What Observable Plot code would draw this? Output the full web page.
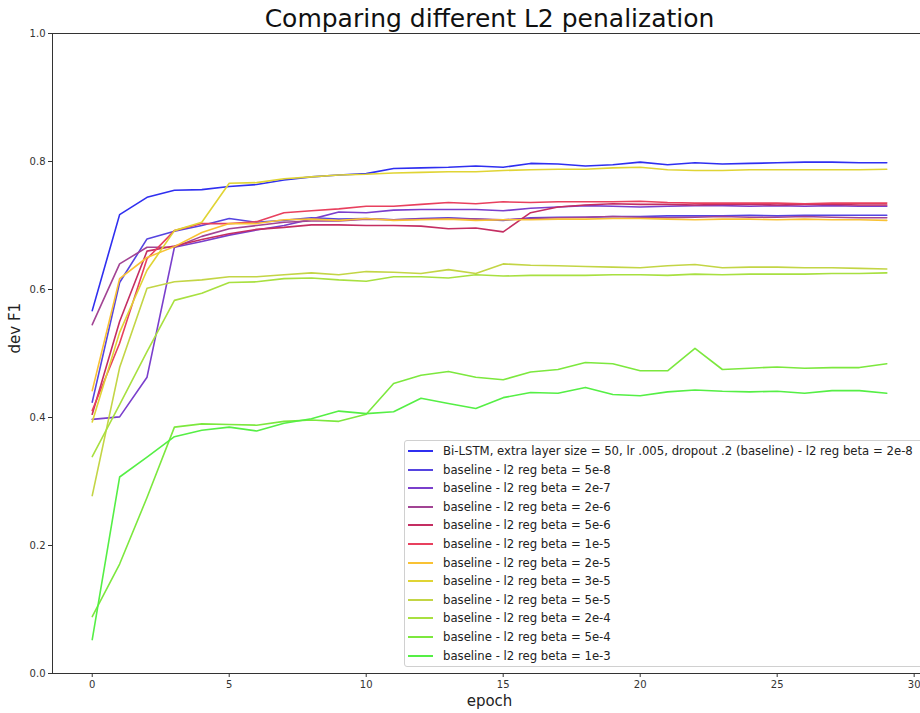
<!DOCTYPE html>
<html>
<head>
<meta charset="utf-8">
<script src="https://cdn.jsdelivr.net/npm/d3@7"></script>
<script src="https://cdn.jsdelivr.net/npm/@observablehq/plot@0.6"></script>
<style>
  html, body { margin: 0; padding: 0; background: #fff; overflow: hidden; }
  #wrap { position: relative; width: 920px; height: 713px; overflow: hidden; }
  #wrap svg { max-width: none !important; }
  #legend {
    position: absolute; left: 404px; top: 440px; width: 520px; height: 227px;
    box-sizing: border-box; border: 1px solid #d0d0d0; border-radius: 3px;
    background: rgba(255,255,255,0.85); padding-top: 1px;
    font-family: "DejaVu Sans", sans-serif; font-size: 11.7px; color: #222;
  }
  .row { position: relative; height: 18.6px; line-height: 18.6px; white-space: nowrap; }
  .sw { position: absolute; left: 3px; top: 8px; width: 25px; height: 2px; display: block; }
  .lab { position: absolute; left: 38px; top: 0; }
</style>
</head>
<body>
<div id="wrap"></div>
<script>
const epochs = [0,1,2,3,4,5,6,7,8,9,10,11,12,13,14,15,16,17,18,19,20,21,22,23,24,25,26,27,28,29];

const seriesNames = [
  "Bi-LSTM, extra layer size = 50, lr .005, dropout .2 (baseline) - l2 reg beta = 2e-8",
  "baseline - l2 reg beta = 5e-8",
  "baseline - l2 reg beta = 2e-7",
  "baseline - l2 reg beta = 2e-6",
  "baseline - l2 reg beta = 5e-6",
  "baseline - l2 reg beta = 1e-5",
  "baseline - l2 reg beta = 2e-5",
  "baseline - l2 reg beta = 3e-5",
  "baseline - l2 reg beta = 5e-5",
  "baseline - l2 reg beta = 2e-4",
  "baseline - l2 reg beta = 5e-4",
  "baseline - l2 reg beta = 1e-3"
];

const seriesColors = ["#2f2ff0","#5544e0","#7a3fcc","#a24494","#c42e62","#e8405e",
  "#f9c234","#e0d434","#c3d545","#a8e040","#7ce83e","#55ef45"];

const beta2e8 = [0.567,0.717,0.744,0.755,0.756,0.761,0.764,0.771,0.776,0.779,0.781,0.789,0.790,0.791,0.793,0.791,0.797,0.796,0.793,0.795,0.799,0.795,0.798,0.796,0.797,0.798,0.799,0.799,0.798,0.798];
const beta5e8 = [0.424,0.611,0.679,0.691,0.700,0.711,0.705,0.708,0.712,0.710,0.711,0.709,0.711,0.712,0.710,0.708,0.712,0.713,0.713,0.714,0.714,0.715,0.715,0.715,0.716,0.715,0.716,0.716,0.716,0.716];
const beta2e7 = [0.397,0.401,0.463,0.666,0.675,0.685,0.693,0.700,0.710,0.721,0.720,0.724,0.725,0.725,0.725,0.723,0.727,0.729,0.731,0.730,0.729,0.730,0.731,0.731,0.730,0.731,0.730,0.731,0.730,0.730];
const beta2e6 = [0.545,0.640,0.666,0.666,0.683,0.695,0.700,0.705,0.707,0.707,0.710,0.709,0.710,0.711,0.710,0.709,0.711,0.712,0.713,0.714,0.713,0.712,0.713,0.714,0.713,0.713,0.714,0.713,0.712,0.712];
const beta5e6 = [0.405,0.550,0.660,0.668,0.678,0.687,0.694,0.697,0.701,0.701,0.700,0.700,0.699,0.695,0.696,0.690,0.720,0.729,0.732,0.734,0.733,0.733,0.732,0.733,0.733,0.732,0.733,0.733,0.732,0.732];
const beta1e5 = [0.411,0.516,0.648,0.692,0.703,0.703,0.706,0.720,0.723,0.726,0.730,0.730,0.733,0.736,0.734,0.737,0.736,0.737,0.737,0.737,0.738,0.736,0.735,0.735,0.735,0.735,0.734,0.735,0.735,0.735];
const beta2e5 = [0.442,0.617,0.650,0.667,0.689,0.703,0.703,0.709,0.710,0.708,0.711,0.708,0.709,0.710,0.708,0.709,0.709,0.710,0.710,0.711,0.711,0.710,0.709,0.710,0.710,0.709,0.710,0.709,0.709,0.708];
const beta3e5 = [0.393,0.533,0.630,0.692,0.705,0.766,0.767,0.773,0.776,0.779,0.780,0.782,0.783,0.784,0.784,0.786,0.787,0.788,0.788,0.790,0.791,0.787,0.786,0.786,0.787,0.787,0.787,0.787,0.787,0.788];
const beta5e5 = [0.278,0.478,0.602,0.612,0.615,0.620,0.620,0.623,0.626,0.623,0.628,0.627,0.625,0.631,0.625,0.640,0.638,0.637,0.636,0.635,0.634,0.637,0.639,0.634,0.635,0.635,0.634,0.634,0.633,0.632];
const beta2e4 = [0.339,0.420,0.503,0.583,0.594,0.611,0.612,0.617,0.618,0.615,0.613,0.620,0.620,0.618,0.623,0.621,0.622,0.622,0.622,0.623,0.623,0.622,0.624,0.623,0.624,0.624,0.624,0.625,0.625,0.626];
const beta5e4 = [0.089,0.171,0.275,0.385,0.390,0.389,0.388,0.394,0.396,0.394,0.405,0.453,0.466,0.472,0.463,0.459,0.471,0.475,0.486,0.484,0.473,0.473,0.508,0.475,0.477,0.479,0.477,0.478,0.478,0.484];
const beta1e3 = [0.053,0.307,0.338,0.370,0.380,0.385,0.379,0.391,0.398,0.410,0.406,0.409,0.430,0.422,0.414,0.431,0.439,0.438,0.447,0.436,0.434,0.440,0.443,0.441,0.440,0.441,0.438,0.442,0.442,0.438];

const xTicks = [0,5,10,15,20,25,30];
const yTicks = [0.0,0.2,0.4,0.6,0.8,1.0];
const titleText = "Comparing different L2 penalization";
const xLabel = "epoch";
const yLabel = "dev F1";

const allSeries = [beta2e8,beta5e8,beta2e7,beta2e6,beta5e6,beta1e5,beta2e5,beta3e5,beta5e5,beta2e4,beta5e4,beta1e3];
const data = [];
allSeries.forEach((vals, i) => vals.forEach((v, j) => data.push({series: seriesNames[i], epoch: epochs[j], f1: v})));

const chart = Plot.plot({
  width: 926,
  height: 713,
  marginTop: 33,
  marginBottom: 40,
  marginLeft: 52,
  marginRight: 0,
  style: {fontFamily: "DejaVu Sans, sans-serif", fontSize: "10px", color: "#333", background: "white", overflow: "visible", maxWidth: "none"},
  x: {domain: [-1.45, 30.45]},
  y: {domain: [0, 1]},
  color: {domain: seriesNames, range: seriesColors},
  marks: [
    Plot.line(data, {x: "epoch", y: "f1", z: "series", stroke: "series", strokeWidth: 1.6}),
    Plot.frame({stroke: "#333", strokeWidth: 1}),
    Plot.axisX({ticks: xTicks, tickSize: 4, tickPadding: 3, label: null, stroke: "#333"}),
    Plot.axisY({ticks: yTicks, tickSize: 4, tickPadding: 3, tickFormat: d3.format(".1f"), label: null, stroke: "#333"}),
    Plot.text([xLabel], {frameAnchor: "bottom", lineAnchor: "middle", dy: 28, fontSize: 15, fill: "#222", text: d => d}),
    Plot.text([yLabel], {frameAnchor: "left", lineAnchor: "middle", dx: -37, rotate: -90, fontSize: 15, fill: "#222", text: d => d}),
    Plot.text([titleText], {frameAnchor: "top", lineAnchor: "middle", dy: -15, fontSize: 25, fill: "#111", text: d => d})
  ]
});
chart.style.maxWidth = "none";

const wrap = document.getElementById("wrap");
wrap.appendChild(chart);

const legend = document.createElement("div");
legend.id = "legend";
seriesNames.forEach((name, i) => {
  const row = document.createElement("div");
  row.className = "row";
  const sw = document.createElement("div");
  sw.className = "sw";
  sw.style.background = seriesColors[i];
  const lab = document.createElement("span");
  lab.className = "lab";
  lab.textContent = name;
  row.appendChild(sw);
  row.appendChild(lab);
  legend.appendChild(row);
});
wrap.appendChild(legend);
</script>
</body>
</html>
